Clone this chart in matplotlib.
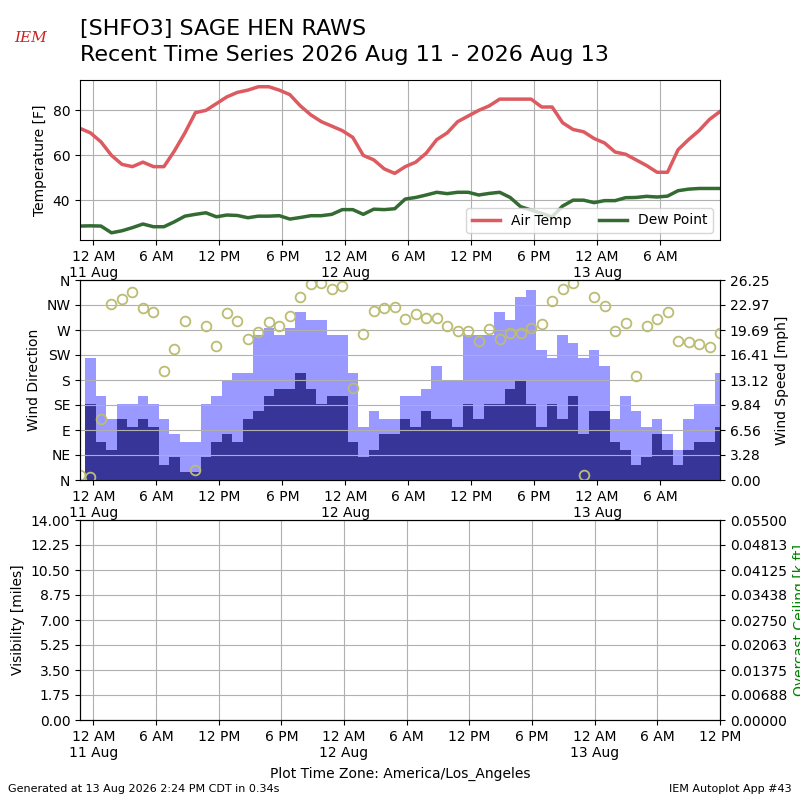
import pandas as pd
import numpy as np
import matplotlib
matplotlib.use("Agg")
import matplotlib.pyplot as plt
import matplotlib.dates as mdates
from matplotlib.ticker import FuncFormatter, FixedLocator

# === DATA (hourly obs, America/Los_Angeles) ===
first_obs = "2026-08-10 22:43"
n_obs = 62
plot_end = "2026-08-13 12:00"

temp_f = [72, 70, 66, 60, 56, 55, 57, 55, 55, 62, 70, 79, 80, 83, 86, 88,
          89, 90.5, 90.5, 89, 87, 82, 78, 75, 73, 71, 68, 60, 58, 54, 52,
          55, 57, 61, 67, 70, 75, 77.5, 80, 82, 85, 85, 85, 85, 81.5, 81.5,
          74.5, 71.5, 70.5, 67.5, 65.5, 61.5, 60.5, 58, 55.5, 52.5, 52.5,
          62.5, 67, 71, 76, 79.5]
dwpt_f = [28.6, 28.7, 28.6, 25.6, 26.5, 27.9, 29.5, 28.3, 28.3, 30.5, 33.0,
          33.8, 34.5, 32.7, 33.5, 33.3, 32.3, 33.0, 33.0, 33.2, 31.7, 32.4,
          33.2, 33.2, 33.8, 35.9, 35.9, 33.8, 36.1, 35.9, 36.3, 40.6, 41.3,
          42.4, 43.6, 43.0, 43.6, 43.6, 42.4, 43.1, 43.6, 41.3, 37.2, 35.7,
          34.2, 32.7, 37.5, 40.1, 40.1, 39.0, 39.9, 39.9, 41.2, 41.3, 41.8,
          41.5, 41.9, 44.3, 45.0, 45.3, 45.3, 45.3]
wind_mph = [0, 10, 5, 4, 8, 7, 8, 7, 2, 3, 1, 1, 3, 5, 6, 5, 8, 9, 11, 12,
            12, 14, 12, 10, 11, 11, 5, 3, 4, 6, 6, 8, 7, 9, 8, 8, 7, 10, 8,
            10, 10, 12, 13, 10, 7, 10, 8, 11, 6, 9, 9, 5, 4, 2, 3, 6, 4, 2,
            4, 5, 5, 7]
gust_mph = [0, 16, 11, 8, 10, 10, 11, 10, 8, 6, 5, 5, 10, 11, 13, 14, 14,
            19, 20, 19, 20, 22, 21, 21, 19, 19, 14, 7, 9, 8, 8, 11, 11, 12,
            15, 13, 13, 19, 19, 19, 22, 21, 24, 25, 17, 16, 19, 18, 16, 17,
            15, 8, 11, 9, 7, 8, 6, 4, 8, 10, 10, 14]
wind_dir = [9, 6, 110, 317, 326, 339, 310, 302, 197, 236, 287, 18, 277, 241,
            301, 286, 253, 266, 284, 277, 295, 329, 352, 355, 344, 349, 166,
            262, 305, 309, 311, 289, 299, 292, 292, 278, 269, 269, 251, 272,
            254, 265, 264, 273, 280, 323, 344, 355, 9, 329, 313, 268, 282,
            187, 278, 289, 303, 250, 248, 244, 239, 265]
dir_labels = ["N", "NE", "E", "SE", "S", "SW", "W", "NW", "N"]

temp_color = "#dc5a60"
dwpt_color = "#336b33"
gust_color = "#9999ff"
wind_color = "#373698"
dir_color = "#bcbc72"

times = pd.date_range(first_obs, periods=n_obs, freq="h")
t0 = times[0]
t1 = times[-1]


def fmt_time(x, pos=None):
    dt = mdates.num2date(x)
    if dt.hour == 0:
        return "12 AM\n" + dt.strftime("%d %b")
    h = dt.hour % 12
    if h == 0:
        h = 12
    return "%d %s" % (h, "AM" if dt.hour < 12 else "PM")


def setup_time(ax):
    ax.xaxis.set_major_locator(mdates.HourLocator(byhour=[0, 6, 12, 18]))
    ax.xaxis.set_major_formatter(FuncFormatter(fmt_time))
    ax.grid(True)


fig = plt.figure(figsize=(8, 8), dpi=100)

fig.text(0.1, 0.964, "[SHFO3] SAGE HEN RAWS", fontsize=16, va="center")
fig.text(0.1, 0.931, "Recent Time Series 2026 Aug 11 - 2026 Aug 13",
         fontsize=16, va="center")
fig.text(0.038, 0.953, "IEM", color="#cc2222", fontsize=11,
         family="serif", style="italic", ha="center", va="center")

# 1) temperature panel
ax1 = fig.add_axes([0.1, 0.7, 0.8, 0.2])
ax1.plot(times, temp_f, color=temp_color, lw=2.5, label="Air Temp")
ax1.plot(times, dwpt_f, color=dwpt_color, lw=2.5, label="Dew Point")
ax1.set_ylim(22.4, 93.5)
ax1.set_yticks([40, 60, 80])
ax1.set_xlim(t0, t1)
ax1.set_ylabel("Temperature [F]")
setup_time(ax1)
ax1.legend(loc="lower right", ncol=2)

# 2) wind panel
ax2 = fig.add_axes([0.1, 0.4, 0.8, 0.25])
ax3 = ax2.twinx()
ax3.bar(times, gust_mph, width=1 / 24.0, color=gust_color)
ax3.bar(times, wind_mph, width=1 / 24.0, color=wind_color)
ax3.set_ylim(0, 26.25)
ax3.set_yticks(np.linspace(0, 26.25, 9))
ax3.yaxis.set_major_formatter(FuncFormatter(lambda v, p: "%.2f" % v))
ax3.set_ylabel("Wind Speed [mph]")
setup_time(ax3)
ax2.set_zorder(ax3.get_zorder() + 1)
ax2.patch.set_visible(False)
ax2.plot(times, wind_dir, "o", mfc="none", mec=dir_color, mew=1.3, ms=7)
ax2.set_ylim(0, 360)
ax2.yaxis.set_major_locator(FixedLocator(range(0, 361, 45)))
ax2.set_yticklabels(dir_labels)
ax2.set_ylabel("Wind Direction")
ax2.set_xlim(t0, t1)
ax2.xaxis.set_major_locator(mdates.HourLocator(byhour=[0, 6, 12, 18]))
ax2.xaxis.set_major_formatter(FuncFormatter(fmt_time))

# 3) visibility / ceiling panel (no data)
ax4 = fig.add_axes([0.1, 0.1, 0.8, 0.25])
ax4.set_xlim(t0, pd.Timestamp(plot_end))
ax4.set_ylim(0, 14)
ax4.set_yticks(np.linspace(0, 14, 9))
ax4.yaxis.set_major_formatter(FuncFormatter(lambda v, p: "%.2f" % v))
ax4.set_ylabel("Visibility [miles]")
setup_time(ax4)
ax5 = ax4.twinx()
ax5.set_ylim(0, 0.055)
ax5.set_yticks(np.linspace(0, 0.055, 9))
ax5.yaxis.set_major_formatter(FuncFormatter(lambda v, p: "%.5f" % v))
ax5.set_ylabel("Overcast Ceiling [k ft]", color="g")

fig.text(0.5, 0.032, "Plot Time Zone: America/Los_Angeles", ha="center",
         va="center", fontsize=10)
fig.text(0.01, 0.014, "Generated at 13 Aug 2026 2:24 PM CDT in 0.34s",
         fontsize=8, va="center")
fig.text(0.99, 0.014, "IEM Autoplot App #43", fontsize=8, ha="right",
         va="center")

fig.savefig("out.png", dpi=100)
